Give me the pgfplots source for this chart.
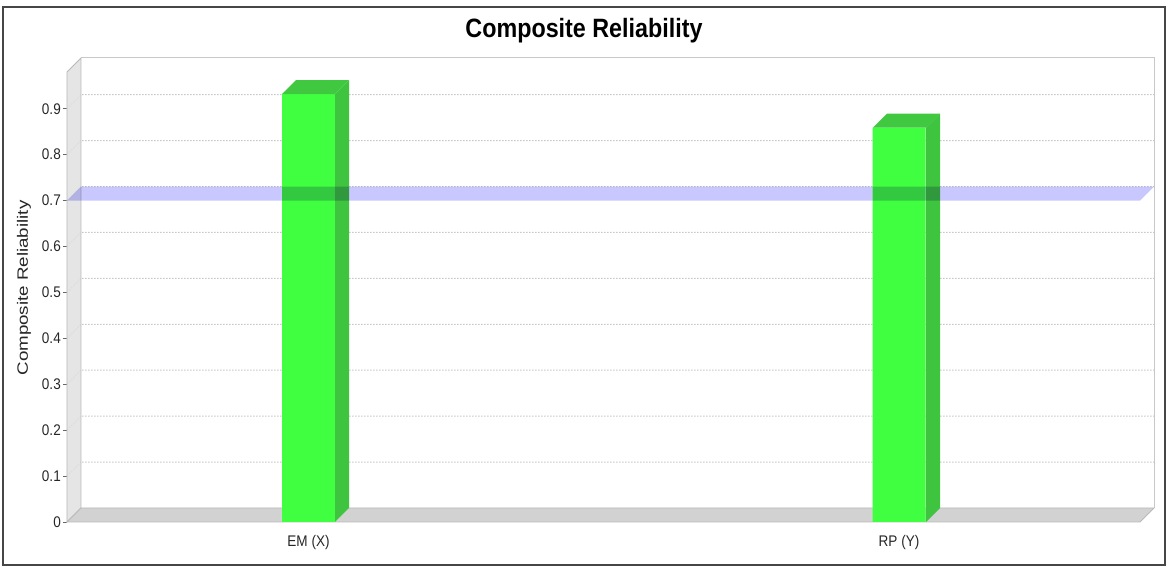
\documentclass[border=0pt]{standalone}
\usepackage{fontspec}
\setmainfont{Liberation Sans}[FakeStretch=0.88]
\newfontfamily\ylabfont{Liberation Sans}[FakeStretch=1.25]
\usepackage{pgfplots}
\pgfplotsset{compat=1.18}

\definecolor{barfront}{RGB}{64,255,64}
\definecolor{barside}{RGB}{62,196,62}
\definecolor{bartop}{RGB}{64,200,64}
\definecolor{band}{RGB}{200,200,255}
\definecolor{gridc}{RGB}{200,200,200}
\definecolor{wallc}{RGB}{224,224,224}
\definecolor{floorc}{RGB}{210,210,210}
\definecolor{edgec}{RGB}{185,185,185}
\definecolor{framec}{RGB}{70,70,70}

% depth offset of the 3d look: 14 px sideways, 14 px up (= 0.0305 in y units)
\begin{document}
\begin{tikzpicture}
\useasboundingbox (-67pt,-45pt) rectangle (1101pt,522pt);
\draw[framec, line width=1.8pt] (-64pt,-43pt) rectangle (1098pt,515pt);
\node[anchor=base, font=\fontsize{26.5}{30}\selectfont\bfseries] at (517pt,484pt) {Composite Reliability};
\node[rotate=90, text=black!85, font=\fontsize{15}{18}\selectfont\ylabfont] at (-43pt,234pt) {Composite Reliability};

\begin{axis}[
    at={(0,0)}, anchor=south west,
    scale only axis,
    width=1073pt, height=450pt,
    xmin=0, xmax=1073,
    ymin=0, ymax=0.98,
    clip=false,
    axis line style={draw=none},
    ytick={0,0.1,0.2,0.3,0.4,0.5,0.6,0.7,0.8,0.9},
    yticklabels={0,0.1,0.2,0.3,0.4,0.5,0.6,0.7,0.8,0.9},
    xtick={241.5,832},
    xticklabels={EM (X),RP (Y)},
    ytick pos=left, xtick pos=bottom,
    tick align=outside,
    major tick length=4pt,
    ytick style={black!60, line width=0.8pt},
    xtick style={draw=none},
    /pgf/number format/assume math mode=true,
    ticklabel style={font=\fontsize{15.4}{18}\selectfont, text=black!85},
    yticklabel style={inner sep=0pt, xshift=-2pt},
    xticklabel style={inner sep=0pt, yshift=-9pt},
  ]

% back wall edges
\draw[gridc, line width=1pt] (axis cs:14,1.0105) -- (axis cs:1087,1.0105) -- (axis cs:1087,0.0305);

% grid lines on the back wall, with the dotted run across the left wall
\pgfplotsinvokeforeach{0.1,0.2,0.3,0.4,0.5,0.6,0.7,0.8,0.9}{
  \draw[gridc, line width=1pt, dash pattern=on 1.5pt off 1.5pt]
    (axis cs:0,#1) -- (axis cs:14,{#1+0.0305}) -- (axis cs:1087,{#1+0.0305});
}

% left wall and floor
\draw[fill=wallc, draw=edgec, line width=0.8pt, fill opacity=0.85]
  (axis cs:0,0) -- (axis cs:14,0.0305) -- (axis cs:14,1.0105) -- (axis cs:0,0.98) -- cycle;
\draw[fill=floorc, draw=edgec, line width=0.8pt]
  (axis cs:0,0) -- (axis cs:1073,0) -- (axis cs:1087,0.0305) -- (axis cs:14,0.0305) -- cycle;

% bars: front faces
\addplot[ybar, bar width=53, bar shift=0pt, fill=barfront, draw=none]
  coordinates {(241.5,0.932) (832,0.859)};

% side and top faces
\addplot[fill=barside, draw=none] coordinates {(268,0) (282,0.0305) (282,0.9625) (268,0.932)} -- cycle;
\addplot[fill=bartop, draw=none] coordinates {(215,0.932) (268,0.932) (282,0.9625) (229,0.9625)} -- cycle;
\addplot[fill=barside, draw=none] coordinates {(859,0) (873,0.0305) (873,0.8895) (859,0.859)} -- cycle;
\addplot[fill=bartop, draw=none] coordinates {(806,0.859) (859,0.859) (873,0.8895) (820,0.8895)} -- cycle;

% threshold band at 0.7
\begin{scope}[blend mode=multiply]
\addplot[fill=band, draw=none] coordinates {(0,0.7) (1073,0.7) (1087,0.7305) (14,0.7305)} -- cycle;
\end{scope}

\end{axis}
\end{tikzpicture}
\end{document}
